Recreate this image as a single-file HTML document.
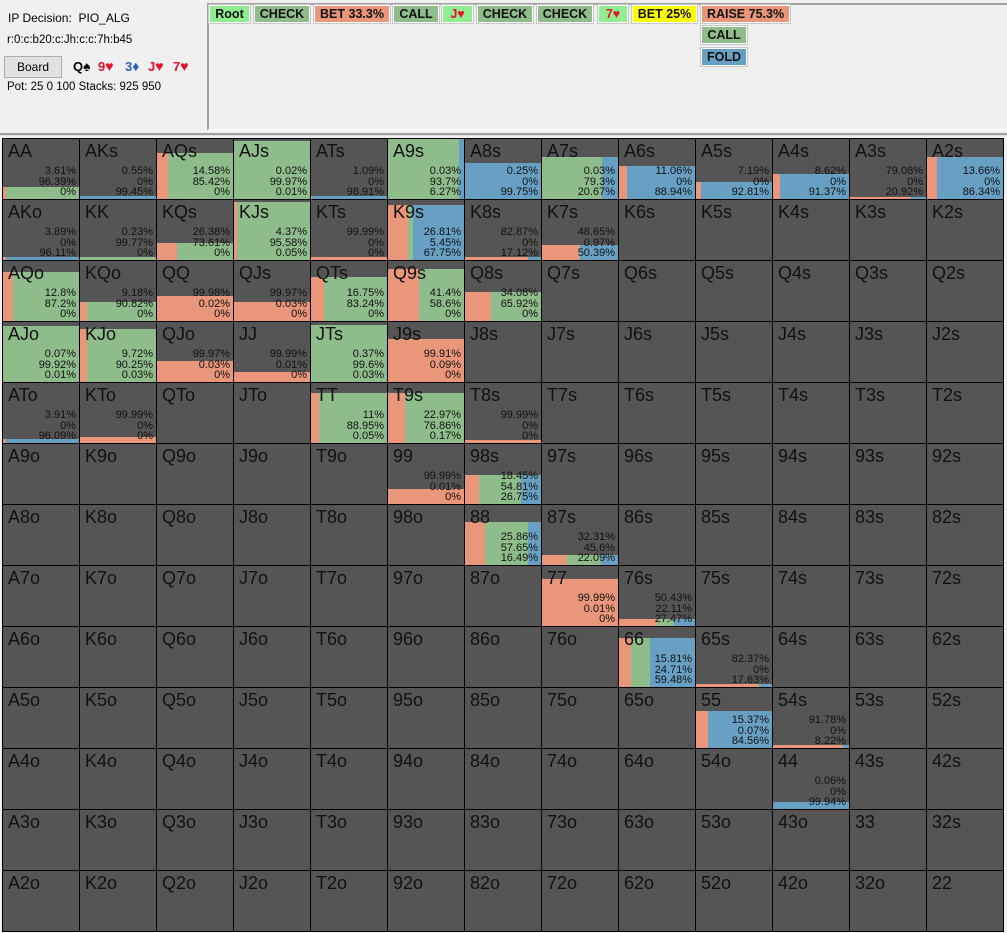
<!DOCTYPE html>
<html><head><meta charset="utf-8">
<style>
*{margin:0;padding:0;box-sizing:border-box}
body{width:1007px;height:933px;background:#f0f0f0;position:relative;overflow:hidden;font-family:"Liberation Sans",Arial,sans-serif}
.t{position:absolute;font-size:12px;color:#000;white-space:nowrap}
.panel{position:absolute;left:207px;top:3px;width:800px;height:127px;border-left:2px solid #a0a0a0;border-top:2px solid #a0a0a0;border-bottom:1px solid #fff}
.btn{position:absolute;height:18px;border:1px solid #fff;outline:1px solid #c8c8c8;font-size:12.5px;font-weight:bold;color:#111;text-align:center;line-height:16px;font-family:"Liberation Sans",Arial,sans-serif}
.g{background:#8fbc8b}.lg{background:#90ee90}.o{background:#e9967a}.b{background:#68a0c4}.y{background:#ffff00}
.sep{position:absolute;left:0;top:133px;width:1007px;height:3px;background:#a0a0a0;border-bottom:1px solid #e0e0e0}
.cell{position:absolute;width:78px;height:62px;border:1px solid #000;background:#555;overflow:hidden}
.lab{position:absolute;left:5px;top:2px;font-size:18px;color:#111;z-index:2}
.pct{position:absolute;right:3px;top:27px;font-size:11px;line-height:10.5px;color:#111;text-align:right;z-index:2}
.bar{position:absolute;left:0;bottom:0;width:76px;display:flex}
.bar div{height:100%}
.s{font-size:14px}
</style></head><body>
<div class="t" style="left:8px;top:11px">IP Decision:&nbsp; PIO_ALG</div>
<div class="t" style="left:7px;top:34px;font-size:11.5px">r:0:c:b20:c:Jh:c:c:7h:b45</div>
<div style="position:absolute;left:4px;top:56px;width:58px;height:22px;background:#e1e1e1;border:1px solid #adadad;font-size:12px;text-align:center;line-height:20px">Board</div>
<div class="t" style="left:73px;top:58px;font-size:13px;font-weight:bold">Q<span class="s">♠</span></div>
<div class="t" style="left:98px;top:58px;font-size:13px;font-weight:bold;color:#e8102a">9<span class="s">♥</span></div>
<div class="t" style="left:125px;top:58px;font-size:13px;font-weight:bold;color:#3060c0">3<span class="s">♦</span></div>
<div class="t" style="left:148px;top:58px;font-size:13px;font-weight:bold;color:#e8102a">J<span class="s">♥</span></div>
<div class="t" style="left:173px;top:58px;font-size:13px;font-weight:bold;color:#e8102a">7<span class="s">♥</span></div>
<div class="t" style="left:7px;top:81px;font-size:11.5px">Pot: 25 0 100 Stacks: 925 950</div>
<div class="panel"></div>
<div class="btn lg" style="left:209px;top:5px;width:41px">Root</div>
<div class="btn g" style="left:254px;top:5px;width:56px">CHECK</div>
<div class="btn o" style="left:314px;top:5px;width:76px">BET 33.3%</div>
<div class="btn g" style="left:393px;top:5px;width:46px">CALL</div>
<div class="btn lg" style="left:442px;top:5px;width:31px;color:#e8102a">J♥</div>
<div class="btn g" style="left:477px;top:5px;width:56px">CHECK</div>
<div class="btn g" style="left:537px;top:5px;width:56px">CHECK</div>
<div class="btn lg" style="left:598px;top:5px;width:30px;color:#e8102a">7♥</div>
<div class="btn y" style="left:632px;top:5px;width:65px">BET 25%</div>
<div class="btn o" style="left:701px;top:5px;width:89px">RAISE 75.3%</div>
<div class="btn g" style="left:701px;top:26px;width:46px">CALL</div>
<div class="btn b" style="left:701px;top:48px;width:46px">FOLD</div>
<div class="sep"></div>
<div id="grid"></div>
<script>
var R="AKQJT98765432";
var D={
AA:[12,3.61,96.39,0],AKs:[3,0.55,0,99.45],AQs:[46,14.58,85.42,0],AJs:[58,0.02,99.97,0.01],ATs:[3,1.09,0,98.91],A9s:[60,0.03,93.7,6.27],A8s:[36,0.25,0,99.75],A7s:[42,0.03,79.3,20.67],A6s:[33,11.06,0,88.94],A5s:[17,7.19,0,92.81],A4s:[25,8.62,0,91.37],A3s:[2,79.08,0,20.92],A2s:[42,13.66,0,86.34],
AKo:[3,3.89,0,96.11],KK:[3,0.23,99.77,0],KQs:[17,26.38,73.61,0],KJs:[58,4.37,95.58,0.05],KTs:[3,99.99,0,0],K9s:[55,26.81,5.45,67.75],K8s:[3,82.87,0,17.12],K7s:[15,48.65,0.97,50.39],
AQo:[49,12.8,87.2,0],KQo:[19,9.18,90.82,0],QQ:[25,99.98,0.02,0],QJs:[19,99.97,0.03,0],QTs:[44,16.75,83.24,0],Q9s:[52,41.4,58.6,0],Q8s:[29,34.08,65.92,0],
AJo:[56,0.07,99.92,0.01],KJo:[53,9.72,90.25,0.03],QJo:[21,99.97,0.03,0],JJ:[10,99.99,0.01,0],JTs:[57,0.37,99.6,0.03],J9s:[43,99.91,0.09,0],
ATo:[4,3.91,0,96.09],KTo:[6,99.99,0,0],TT:[50,11,88.95,0.05],T9s:[50,22.97,76.86,0.17],T8s:[3,99.99,0,0],
"99":[15,99.99,0.01,0],"98s":[29,18.45,54.81,26.75],"88":[43,25.86,57.65,16.49],"87s":[10,32.31,45.6,22.09],"77":[47,99.99,0.01,0],"76s":[7,50.43,22.11,27.47],"66":[49,15.81,24.71,59.48],"65s":[3,82.37,0,17.63],"55":[37,15.37,0.07,84.56],"54s":[3,91.78,0,8.22],"44":[7,0.06,0,99.94]
};
var h="";
for(var i=0;i<13;i++)for(var j=0;j<13;j++){
 var n=i==j?R[i]+R[j]:(j>i?R[i]+R[j]+"s":R[j]+R[i]+"o");
 h+='<div class="cell" style="left:'+(2+77*j)+'px;top:'+(138+61*i)+'px"><div class="lab">'+n+'</div>';
 var d=D[n];
 if(d){
  h+='<div class="pct">'+d[1]+'%<br>'+d[2]+'%<br>'+d[3]+'%</div>';
  h+='<div class="bar" style="height:'+d[0]+'px"><div style="width:'+d[1]+'%;background:#e9967a"></div><div style="width:'+d[2]+'%;background:#8fbc8b"></div><div style="width:'+d[3]+'%;background:#68a0c4"></div></div>';
 }
 h+='</div>';
}
document.getElementById("grid").innerHTML=h;
</script>
</body></html>
